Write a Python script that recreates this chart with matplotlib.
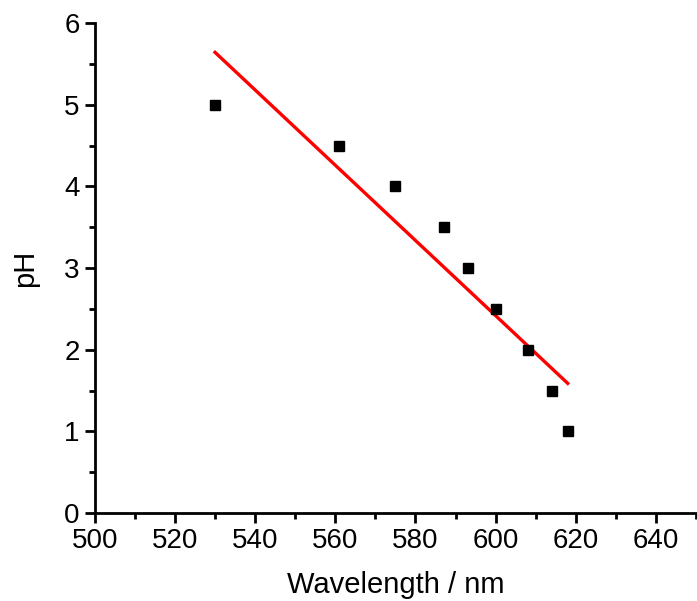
import numpy as np
import matplotlib.pyplot as plt
from matplotlib.ticker import MultipleLocator

# data
wavelength = [530, 561, 575, 587, 593, 600, 608, 614, 618]
ph = [5.0, 4.5, 4.0, 3.5, 3.0, 2.5, 2.0, 1.5, 1.0]

plt.rcParams['font.family'] = ['Liberation Sans', 'DejaVu Sans']

fig = plt.figure(figsize=(6.97, 6.01), dpi=100)
ax = fig.add_axes([0.136, 0.1464, 0.8626, 0.8153])

# linear fit over the measured points
slope, intercept = np.polyfit(wavelength, ph, 1)
fit_x = np.array([min(wavelength), max(wavelength)])
ax.plot(fit_x, slope * fit_x + intercept, color='#ff0000', lw=2.4, zorder=2)

ax.plot(wavelength, ph, 's', color='black', markersize=7, zorder=3)

ax.set_xlim(500, 650)
ax.set_ylim(0, 6)
ax.xaxis.set_major_locator(MultipleLocator(20))
ax.xaxis.set_minor_locator(MultipleLocator(10))
ax.yaxis.set_major_locator(MultipleLocator(1))
ax.yaxis.set_minor_locator(MultipleLocator(0.5))

for side in ['top', 'right']:
    ax.spines[side].set_visible(False)
for side in ['left', 'bottom']:
    ax.spines[side].set_linewidth(2)

ax.tick_params(which='major', direction='out', length=7, width=2, labelsize=20, pad=4)
ax.tick_params(which='minor', direction='out', length=4, width=2)

ax.set_xlabel('Wavelength / nm', fontsize=21, labelpad=12)
ax.set_ylabel('pH', fontsize=21, labelpad=18)

fig.savefig('out.png', dpi=100)
